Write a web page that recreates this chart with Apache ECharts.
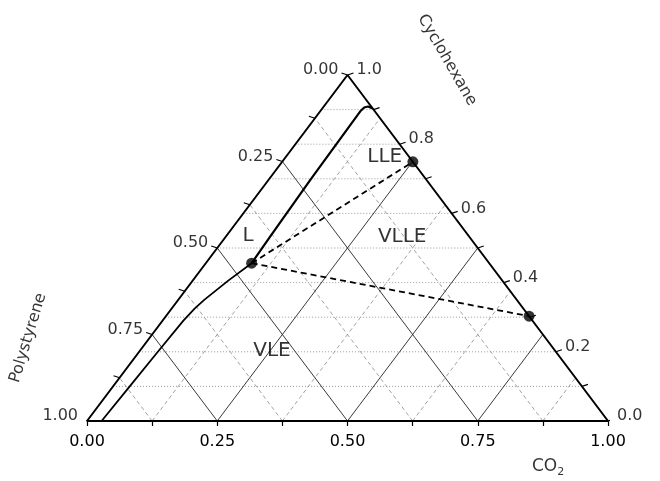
<!DOCTYPE html>
<html>
<head>
<meta charset="utf-8">
<script src="https://cdn.jsdelivr.net/npm/echarts@6/dist/echarts.min.js"></script>
<style>
html,body{margin:0;padding:0;background:#fff;}
#chart{width:660px;height:481px;}
</style>
</head>
<body>
<div id="chart"></div>
<script>
// ---------- DATA (ternary compositions: [CO2 fraction, Cyclohexane fraction]) ----------
const co2TickValues = [0, 0.125, 0.25, 0.375, 0.5, 0.625, 0.75, 0.875, 1];
const co2TickLabels = ['0.00', '0.25', '0.50', '0.75', '1.00'];
const psTickValues = [0, 0.125, 0.25, 0.375, 0.5, 0.625, 0.75, 0.875, 1];
const psTickLabels = ['0.00', '0.25', '0.50', '0.75', '1.00'];
const psLabelValues = [0, 0.25, 0.5, 0.75, 1];
const cycloTickValues = [0, 0.1, 0.2, 0.3, 0.4, 0.5, 0.6, 0.7, 0.8, 0.9, 1];
const cycloLabelValues = [0, 0.2, 0.4, 0.6, 0.8, 1];
const cycloTickLabels = ['0.0', '0.2', '0.4', '0.6', '0.8', '1.0'];
const solidGridValues = [0.25, 0.5, 0.75];
const dashedGridValues = [0.125, 0.375, 0.625, 0.875];
const dottedGridValues = [0.1, 0.2, 0.3, 0.4, 0.5, 0.6, 0.7, 0.8, 0.9];

const boundaryLower = [[0.028, 0.0], [0.032, 0.10], [0.036, 0.20], [0.040, 0.29], [0.044, 0.325], [0.050, 0.35], [0.068, 0.405], [0.088, 0.456]];
const boundaryUpper = [[0.088, 0.456], [0.085, 0.533], [0.080, 0.70], [0.077, 0.895], [0.079, 0.906], [0.085, 0.909], [0.091, 0.906], [0.097, 0.903]];
const tieLines = [
  [[0.088, 0.456], [0.251, 0.749]],
  [[0.088, 0.456], [0.697, 0.303]]
];
const tiePoints = [[0.088, 0.456], [0.251, 0.749], [0.697, 0.303]];
const regionNames = ['LLE', 'VLLE', 'L', 'VLE'];
const regionAt = [[0.19, 0.763], [0.339, 0.532], [0.0415, 0.535], [0.254, 0.202]];
const axisTitles = ['Cyclohexane', 'Polystyrene', 'CO2'];

// ---------- helpers ----------
const GRID = {left: 87, right: 52, top: 75, bottom: 60};
const W = 660 - GRID.left - GRID.right, H = 481 - GRID.top - GRID.bottom;
const px = (dx, dy) => [dx / W, -dy / H]; // pixel offset -> data offset
function xy(a, c) { return [a + c / 2, c]; }
const FONT = "'DejaVu Sans', 'Liberation Sans', Arial, sans-serif";

const series = [];
function seg(points, style, z) {
  series.push({
    type: 'line', data: points, symbol: 'none', silent: true, animation: false,
    lineStyle: style, z: z || 2, clip: false
  });
}

// dotted horizontal lines (constant cyclohexane)
dottedGridValues.forEach(c => seg([xy(0, c), xy(1 - c, c)], {color: '#9a9a9a', width: 1, type: [1, 2]}, 1));
// dashed grid
dashedGridValues.forEach(v => {
  seg([xy(v, 0), xy(v, 1 - v)], {color: '#8a8a8a', width: 0.8, type: [4, 3]}, 1);
  seg([xy(1 - v, 0), xy(0, 1 - v)], {color: '#8a8a8a', width: 0.8, type: [4, 3]}, 1);
});
// solid grid
solidGridValues.forEach(v => {
  seg([xy(v, 0), xy(v, 1 - v)], {color: '#222', width: 0.9}, 1);
  seg([xy(1 - v, 0), xy(0, 1 - v)], {color: '#222', width: 0.9}, 1);
});
// triangle edges
seg([xy(0, 0), xy(1, 0), xy(0, 1), xy(0, 0)], {color: '#000', width: 2}, 3);

// right axis ticks (cyclohexane)
const rTick = px(6, -2), lTick = px(-6, -2);
cycloTickValues.forEach(c => {
  const p = xy(1 - c, c);
  seg([p, [p[0] + rTick[0], p[1] + rTick[1]]], {color: '#000', width: 1.2}, 3);
});
// left axis ticks (polystyrene)
psTickValues.forEach(pv => {
  const p = xy(0, 1 - pv);
  seg([p, [p[0] + lTick[0], p[1] + lTick[1]]], {color: '#000', width: 1.2}, 3);
});

// phase boundary
seg(boundaryLower.map(d => xy(d[0], d[1])), {color: '#000', width: 1.8}, 4);
seg(boundaryUpper.map(d => xy(d[0], d[1])), {color: '#000', width: 2.2}, 4);
// tie lines
tieLines.forEach(t => seg(t.map(d => xy(d[0], d[1])), {color: '#000', width: 1.8, type: [6, 4]}, 4));

// tie points
series.push({
  type: 'scatter', data: tiePoints.map(d => xy(d[0], d[1])), symbol: 'circle', symbolSize: 11,
  itemStyle: {color: '#000'}, z: 5, silent: true, animation: false
});

// tick labels right
series.push({
  type: 'scatter', symbolSize: 0, silent: true, animation: false, clip: false, z: 6,
  data: cycloLabelValues.map((c, i) => {
    const p = xy(1 - c, c);
    return {value: [p[0] + rTick[0], p[1] + rTick[1]], label: {formatter: cycloTickLabels[i]}};
  }),
  label: {show: true, position: 'right', distance: 3, offset: [0, -3], fontFamily: FONT, fontSize: 16, color: '#000'}
});
// tick labels left
series.push({
  type: 'scatter', symbolSize: 0, silent: true, animation: false, clip: false, z: 6,
  data: psLabelValues.map((pv, i) => {
    const p = xy(0, 1 - pv);
    return {value: [p[0] + lTick[0], p[1] + lTick[1]], label: {formatter: psTickLabels[i]}};
  }),
  label: {show: true, position: 'left', distance: 3, offset: [0, -3], fontFamily: FONT, fontSize: 16, color: '#000'}
});
// region labels
series.push({
  type: 'scatter', symbolSize: 0, silent: true, animation: false, clip: false, z: 6,
  data: regionAt.map((d, i) => ({value: xy(d[0], d[1]), label: {formatter: regionNames[i]}})),
  label: {show: true, position: 'inside', fontFamily: FONT, fontSize: 20, color: '#000'}
});
// axis titles
series.push({
  type: 'scatter', symbolSize: 0, silent: true, animation: false, clip: false, z: 6,
  data: [
    {value: [0.691, 1.043], label: {formatter: axisTitles[0], rotate: -60}},
    {value: [-0.113, 0.24], label: {formatter: axisTitles[1], rotate: 73}},
    {value: [0.885, -0.133], label: {formatter: '{a|CO}{b|2}'}}
  ],
  label: {show: true, position: 'inside', fontFamily: FONT, fontSize: 16, color: '#000',
    rich: {a: {fontFamily: FONT, fontSize: 17, color: '#000'}, b: {fontFamily: FONT, fontSize: 11, color: '#000', padding: [11, 0, 0, 0]}}}
});

const chart = echarts.init(document.getElementById('chart'), null, {renderer: 'canvas'});
chart.setOption({
  backgroundColor: '#fff',
  animation: false,
  grid: {left: GRID.left, right: GRID.right, top: GRID.top, bottom: GRID.bottom, containLabel: false},
  xAxis: {
    type: 'value', min: 0, max: 1, interval: 0.125,
    axisLine: {show: false},
    axisTick: {show: true, length: 5, lineStyle: {color: '#000', width: 1.2}},
    axisLabel: {
      margin: 13, fontFamily: FONT, fontSize: 16, color: '#000',
      formatter: v => { const k = Math.round(v * 4); return Math.abs(v * 4 - k) < 1e-6 ? co2TickLabels[k] : ''; }
    },
    splitLine: {show: false}
  },
  yAxis: {type: 'value', min: 0, max: 1, show: false},
  series: series
});
</script>
</body>
</html>
